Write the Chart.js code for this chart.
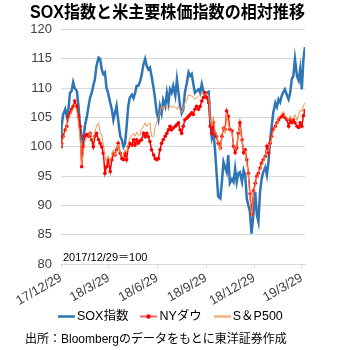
<!DOCTYPE html>
<html>
<head>
<meta charset="utf-8">
<script src="https://cdn.jsdelivr.net/npm/chart.js@4.4.1/dist/chart.umd.min.js"></script>
<style>
  html, body { margin: 0; padding: 0; background: #fff; }
  #wrap { position: relative; width: 340px; height: 350px; }
  #legend { position: absolute; left: 58px; top: 308px; display: flex; align-items: center;
    font: 12.5px 'Liberation Sans', 'Noto Sans CJK JP', sans-serif; color: #000; white-space: nowrap; line-height: 16px; }
  #legend .item { display: flex; align-items: center; margin-right: 12px; }
  #legend canvas { margin-right: 2px; }
  #source { position: absolute; left: 25px; top: 331px;
    font: 12px 'Liberation Sans', 'Noto Sans CJK JP', sans-serif; color: #000; white-space: nowrap; line-height: 16px; }
</style>
</head>
<body>
<div id="wrap">
  <canvas id="chart"></canvas>
  <div id="legend"></div>
  <div id="source"></div>
</div>
<script>
// days since 2017/12/29
const days = [0,1,4,8,11,14,17,20,23,26,30,33,36,39,42,45,49,52,55,58,
  61,64,67,71,74,77,80,83,86,89,93,96,99,102,105,108,112,115,118,121,
  124,127,130,134,137,140,143,146,149,152,156,159,162,165,168,171,175,178,181,184,
  187,190,193,197,200,203,206,209,212,216,219,222,225,228,231,234,238,241,244,247,
  250,253,256,260,263,266,269,272,275,279,282,285,288,291,294,297,301,304,307,310,
  313,316,319,323,326,329,332,335,338,342,345,348,351,354,357,360,364,367,370,373,
  376,379,382,386,389,392,395,398,401,405,408,411,414,417,420,423,427,430,433,436,
  439,442,446,449,452,455,458,461];

const sox = [100,103.5,105.5,106.4,105.2,106.4,109.2,109.5,111,110,109.5,107,103.5,101.8,100.5,103.5,105.2,106.9,108.4,109.2,
  110.4,111.5,113.8,115.2,115,113.2,112.4,112.7,110,109.2,107.5,106.4,104.6,105.8,107,104.6,101.8,101.2,100,100.6,
  103.5,106.9,108.4,108.9,108.3,109.2,110.4,110.4,111,112.1,114.1,115,113.8,113.2,113.5,112.1,110,108,105.7,104.6,
  106.9,105.7,108,106.9,109.2,107.5,109.8,109.2,110.4,108.7,111.5,109.2,106.9,105.7,106.3,109.2,111,112.7,112.1,112.4,
  110.7,109.2,109.5,109.8,109.2,110.7,109.5,109,109.2,109.4,104.5,101.5,102.5,99.5,95.5,91.5,91.2,94,97.4,96.5,
  95.7,98.6,93.8,94.5,94,96.3,94,95.5,95.7,94,96,95.2,91.2,90,88.9,85.2,89,92.3,88.4,87.2,
  92.3,94.5,95.7,96.5,95.2,97.4,101,103.5,105.8,107.5,106.8,108.1,107.6,108.7,109.3,109.8,108.8,108.1,109.2,111.5,
  112.1,115,112,111.3,113.3,109.8,115,117];

const dow = [100,100.6,101.8,102.9,103.5,105.2,105.8,106.4,106.9,107.8,106.9,105.2,103.5,96.6,100,101.8,102.1,101.8,102.3,101.2,
  100,101.8,102.3,101.2,100.6,100,98.9,95.5,96.6,97.8,95.8,97.8,98.9,98.6,99.5,100.6,98.9,98,97.8,98.9,
  97.8,100,100.6,100.3,101.2,100.3,101.2,100.6,101,101.2,102.3,101.7,102.3,101.7,100.9,99.5,98.6,98,97.8,98,
  99.5,100.6,101.2,101.8,102.3,102.9,103.5,102.9,103.2,103.5,103.8,104.1,102.9,102.3,103.5,104.6,104.9,105.2,105.5,105.8,
  105.5,106.4,106.9,106.4,106.9,107.8,108.4,109.2,108.4,107.5,103.5,102.3,104.1,102.3,101.7,100.6,99.8,101.8,103.2,103,
  106.1,105.2,103,102.7,100.1,99,99.8,102.3,104.1,101.2,99,99.5,97.8,95.5,92,88.5,92.5,93.8,95,95.5,
  96.4,97.2,97.8,98.4,100.1,99,100.6,101.8,103,103.5,104.1,104.6,105,105.2,105.5,105,104.6,103.5,104.6,104.1,
  104.6,104.1,103.5,103.3,104.1,103.5,105.3,106.2];

const sp500 = [100,100.5,101.5,102.5,103.5,104.5,105.5,106,106.5,107.3,106,104,101.5,97,99,101,101.5,101.8,102.5,101.5,
  101,102.5,103.5,104.1,102.5,102,100.5,98.5,97.5,98.5,97.3,98.5,99.5,98.5,99.5,100.5,99,98.5,98.5,99.5,
  99,100.5,101.5,102,102.3,101.8,102.5,102,102,103,103.5,104.1,103.5,103.8,104.1,101.8,101.8,103.5,104.1,105.2,
  105.8,107,106.4,107,106.7,106.4,107,106.7,107,106.7,106.4,107,106.4,105.8,106.4,107.5,108.1,108.9,108.7,108.7,
  108.4,108.1,108.4,108.7,108.9,109.2,108.7,108.9,109.2,108.7,104.6,103.5,105.2,102.3,102.3,100.6,99.5,101.8,103.5,102.3,
  105.8,104.1,103,102.5,100.5,99.5,100,102.5,103.5,101,99.5,99.2,97.5,95,91.5,88,92,93.5,94.8,95.2,
  96.2,97,97.5,98.5,99.5,99.2,100.5,101.5,102.8,103.5,104,104.8,105.3,105.5,106,105.2,104.8,104.5,105.3,104.5,
  105,105.5,104.5,105.5,106.3,106,107,107.5];

const tickDays = [0, 90, 182, 274, 365, 455];
const tickLabels = ['17/12/29', '18/3/29', '18/6/29', '18/9/29', '18/12/29', '19/3/29'];
const seriesNames = ['SOX指数', 'NYダウ', 'S＆P500'];
const noteText = '2017/12/29＝100';
const sourceText = '出所：Bloombergのデータをもとに東洋証券作成';

const blue = '#2e75b6', red = '#ff0000', orange = '#f4914e';
const fam = "'Liberation Sans', 'Noto Sans CJK JP', sans-serif";
Chart.defaults.font.family = fam;
Chart.defaults.color = '#404040';

function pts(vals) {
  return days.map((d, i) => ({ x: d, y: vals[i] }));
}

// small legend swatches
function swatch(color, width, dot) {
  const c = document.createElement('canvas');
  c.width = 17; c.height = 7;
  const g = c.getContext('2d');
  g.strokeStyle = color; g.lineWidth = width;
  g.beginPath(); g.moveTo(0, 3.5); g.lineTo(17, 3.5); g.stroke();
  if (dot) {
    g.fillStyle = '#ff0000';
    g.beginPath(); g.arc(8.5, 3.5, 2.2, 0, Math.PI * 2); g.fill();
  }
  return c;
}
const swatchStyles = [[blue, 2.5, false], ['#ff6060', 2, true], ['#f8b080', 2.5, false]];

// html legend built from the chart's datasets
const htmlLegend = {
  id: 'htmlLegend',
  afterUpdate(chart) {
    const box = document.getElementById('legend');
    box.innerHTML = '';
    chart.data.datasets.forEach((ds, i) => {
      const item = document.createElement('div');
      item.className = 'item';
      item.appendChild(swatch(...swatchStyles[i]));
      const t = document.createElement('span');
      t.textContent = ds.label;
      item.appendChild(t);
      box.appendChild(item);
    });
  }
};

const notePlugin = {
  id: 'note',
  afterDraw(chart) {
    const { ctx, chartArea } = chart;
    ctx.save();
    ctx.font = '11px ' + fam;
    ctx.fillStyle = '#000';
    ctx.textBaseline = 'middle';
    ctx.fillText(noteText, chartArea.left + 2, chartArea.bottom - 6);
    ctx.restore();
  }
};

document.getElementById('source').textContent = sourceText;

new Chart(document.getElementById('chart'), {
  type: 'line',
  data: {
    datasets: [
      { label: seriesNames[0], data: pts(sox), borderColor: blue, borderWidth: 2.5, pointRadius: 0, order: 3 },
      { label: seriesNames[1], data: pts(dow), borderColor: red, backgroundColor: red, borderWidth: 1.5,
        pointRadius: 1.8, pointBorderWidth: 0, order: 2 },
      { label: seriesNames[2], data: pts(sp500), borderColor: orange, borderWidth: 1, pointRadius: 0, order: 1 }
    ]
  },
  options: {
    responsive: true,
    maintainAspectRatio: false,
    animation: false,
    layout: { padding: { left: 30, right: 35, top: 0, bottom: 39 } },
    scales: {
      x: {
        type: 'linear',
        min: 0,
        max: 461,
        afterBuildTicks: (axis) => { axis.ticks = tickDays.map(v => ({ value: v })); },
        ticks: {
          minRotation: 30,
          maxRotation: 30,
          autoSkip: false,
          font: { size: 13 },
          color: '#404040',
          padding: 2,
          callback: (v) => tickLabels[tickDays.indexOf(v)]
        },
        grid: { drawOnChartArea: false, drawTicks: true, tickLength: 4, color: '#d9d9d9' },
        border: { color: '#d9d9d9' }
      },
      y: {
        min: 80,
        max: 120,
        afterFit: (axis) => { axis.width = 31; },
        ticks: { stepSize: 5, font: { size: 13 }, color: '#404040', padding: 9 },
        grid: { color: '#d9d9d9', drawTicks: false },
        border: { display: false }
      }
    },
    plugins: {
      title: {
        display: true,
        align: 'start',
        text: 'SOX指数と米主要株価指数の相対推移',
        color: '#000',
        font: { size: 17.5, weight: 'bold' },
        padding: { top: 3, bottom: 5.5 }
      },
      legend: { display: false },
      tooltip: { enabled: false }
    }
  },
  plugins: [htmlLegend, notePlugin]
});
</script>
</body>
</html>
